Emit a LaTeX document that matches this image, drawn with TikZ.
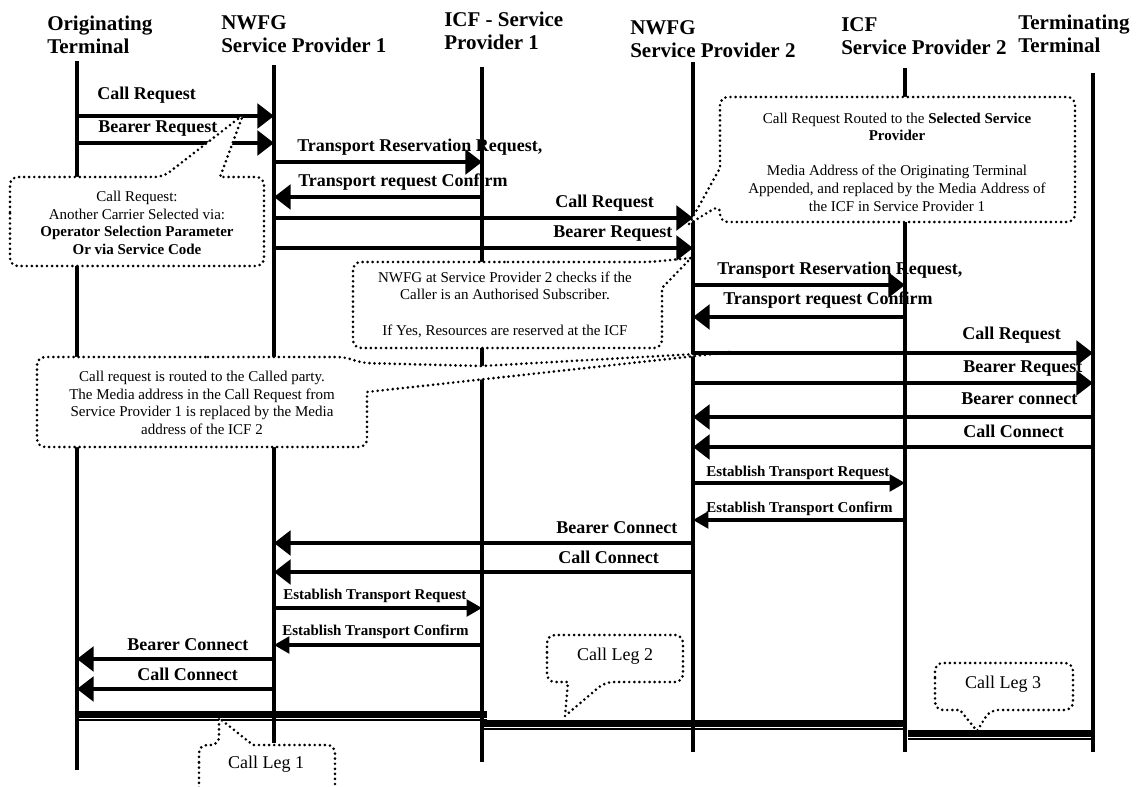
\documentclass[tikz,border=0pt]{standalone}
\usepackage{fontspec}
\setmainfont{Liberation Serif}
\usetikzlibrary{arrows.meta}
% triple rule marking a call leg between two named points
\newcommand\legline[2]{%
  \draw[line width=1.8pt] ([yshift=2.5pt]#1) -- ([yshift=2.5pt]#2);
  \draw[line width=2.5pt] (#1) -- (#2);
  \draw[line width=1.2pt] ([yshift=-3pt]#1) -- ([yshift=-3pt]#2);}
\begin{document}
\begin{tikzpicture}[x=0.75pt,y=-0.75pt,
  hdr/.style={font=\fontsize{15.75}{17.25}\selectfont\bfseries, align=left, anchor=north west, inner sep=0pt},
  lbl/.style={font=\fontsize{13.5}{15}\selectfont\bfseries, anchor=base west, inner sep=0pt},
  slbl/.style={font=\fontsize{11.25}{13}\selectfont\bfseries, anchor=base west, inner sep=0pt},
  note/.style={font=\fontsize{11.25}{13.2}\selectfont, align=center, inner sep=0pt},
  legtxt/.style={font=\fontsize{13.5}{15}\selectfont, anchor=base, inner sep=0pt},
  life/.style={line width=2.4pt},
  msg/.style={line width=2.6pt, -{Triangle[length=12.5pt,width=18.5pt]}},
  smsg/.style={line width=2.4pt, -{Triangle[length=11.5pt,width=12.5pt]}},
  bubble/.style={draw, fill=white, line width=2.2pt, line cap=round, line join=round, dash pattern=on 0pt off 3.8pt},
  rc/.style={rounded corners=6pt},
]
\useasboundingbox (0,0) rectangle (1141,787);
\clip (0,0) rectangle (1141,787);

% ---- lifelines ----
\coordinate (OT) at (77,61);    \coordinate (OTb) at (77,770);
\coordinate (N1) at (274,65);   \coordinate (N1b) at (274,743);
\coordinate (I1) at (482,67);   \coordinate (I1b) at (482,762);
\coordinate (N2) at (693,62);   \coordinate (N2b) at (693,752);
\coordinate (I2) at (905,68);   \coordinate (I2b) at (905,752);
\coordinate (TT) at (1093,73);  \coordinate (TTb) at (1093,752);
\draw[life] (OT) -- (OTb);
\draw[life] (N1) -- (N1b);
\draw[life] (I1) -- (I1b);
\draw[life] (N2) -- (N2b);
\draw[life] (I2) -- (I2b);
\draw[life] (TT) -- (TTb);

% ---- call legs ----
\coordinate (g1a) at (77,716);  \coordinate (g1b) at (487,716);
\coordinate (g2a) at (480,725); \coordinate (g2b) at (905,725);
\coordinate (g3a) at (908,735); \coordinate (g3b) at (1093,735);
\legline{g1a}{g1b}
\legline{g2a}{g2b}
\legline{g3a}{g3b}

% ---- callouts (white, over the lifelines) ----
\draw[bubble] (900,97) [rc] -- (1075,97) -- (1075,222) -- (720,222) -- (720,205) [sharp corners] -- (689,224) -- (720,168) [rc] -- (720,97) -- cycle;
\draw[bubble] (500,262) [rc] -- (650,262) [sharp corners] -- (691,258) -- (662,288) [rc] -- (662,348) -- (353,348) -- (353,262) -- cycle;
\draw[bubble] (200,357) [rc] -- (345,357) -- (362,363) [sharp corners] -- (482,366) -- (732,352) -- (367,392) [rc] -- (367,447) -- (37,447) -- (37,357) -- cycle;
\draw[bubble] (547,660) [rc] -- (547,635) -- (683,635) -- (683,682) -- (605,682) [sharp corners] -- (565,716) -- (568,682) [rc] -- (547,682) -- cycle;
\draw[bubble] (935,685) [rc] -- (935,663) -- (1073,663) -- (1073,710) -- (990,710) [sharp corners] -- (977,731) -- (960,710) [rc] -- (935,710) -- cycle;
\draw[bubble] (199,770) [rc] -- (199,745) -- (219,745) [sharp corners] -- (219,718) -- (253,745) [rc] -- (335,745) -- (335,800) -- (199,800) -- cycle;

% ---- messages ----
\draw[msg]  (OT |- 0,116) -- (N1 |- 0,116);
\draw[msg]  (OT |- 0,143) -- (N1 |- 0,143);
\draw[msg]  (N1 |- 0,162) -- (I1 |- 0,162);
\draw[msg]  (I1 |- 0,197) -- (N1 |- 0,197);
\draw[msg]  (N1 |- 0,218) -- (N2 |- 0,218);
\draw[msg]  (N1 |- 0,248) -- (N2 |- 0,248);
\draw[msg]  (N2 |- 0,285) -- (I2 |- 0,285);
\draw[msg]  (I2 |- 0,317) -- (N2 |- 0,317);
\draw[msg]  (N2 |- 0,353) -- (TT |- 0,353);
\draw[msg]  (N2 |- 0,383) -- (TT |- 0,383);
\draw[msg]  (TT |- 0,417) -- (N2 |- 0,417);
\draw[msg]  (TT |- 0,447) -- (N2 |- 0,447);
\draw[smsg] (N2 |- 0,483) -- (I2 |- 0,483);
\draw[smsg] (I2 |- 0,520) -- (N2 |- 0,520);
\draw[msg]  (N2 |- 0,543) -- (N1 |- 0,543);
\draw[msg]  (N2 |- 0,572) -- (N1 |- 0,572);
\draw[smsg] (N1 |- 0,608) -- (I1 |- 0,608);
\draw[smsg] (I1 |- 0,645) -- (N1 |- 0,645);
\draw[msg]  (N1 |- 0,659) -- (OT |- 0,659);
\draw[msg]  (N1 |- 0,689) -- (OT |- 0,689);

% callout on the carrier selection, drawn over the bearer request arrow
\draw[bubble] (10,220) [rc] -- (10,177) -- (163,177) [sharp corners] -- (243,115) -- (220,177) [rc] -- (264,177) -- (264,266) -- (10,266) -- cycle;

% ---- headers ----
\node[hdr] (h1) at (47,15.5)  {Originating\\Terminal};
\node[hdr] (h2) at (221,15)   {NWFG\\Service Provider 1};
\node[hdr] (h3) at (444,12)   {ICF - Service\\Provider 1};
\node[hdr] (h4) at (630,20)   {NWFG\\Service Provider 2};
\node[hdr] (h5) at (841,17)   {ICF\\Service Provider 2};
\node[hdr] (h6) at (1018,15)  {Terminating\\Terminal};

% ---- message labels ----
\node[lbl]  (l1)  at (97,100)  {Call Request};
\node[lbl]  (l2)  at (98,133)  {Bearer Request};
\node[lbl]  (l3)  at (297,152) {Transport Reservation Request,};
\node[lbl]  (l4)  at (298,187) {Transport request Confirm};
\node[lbl]  (l5)  at (555,208) {Call Request};
\node[lbl]  (l6)  at (553,238) {Bearer Request};
\node[lbl]  (l7)  at (717,275) {Transport Reservation Request,};
\node[lbl]  (l8)  at (723,305) {Transport request Confirm};
\node[lbl]  (l9)  at (962,340) {Call Request};
\node[lbl]  (l10) at (963,373) {Bearer Request};
\node[lbl]  (l11) at (961,405) {Bearer connect};
\node[lbl]  (l12) at (963,437) {Call Connect};
\node[slbl] (l13) at (706,476) {Establish Transport Request};
\node[slbl] (l14) at (706,512) {Establish Transport Confirm};
\node[lbl]  (l15) at (556,533) {Bearer Connect};
\node[lbl]  (l16) at (558,563) {Call Connect};
\node[slbl] (l17) at (283,599) {Establish Transport Request};
\node[slbl] (l18) at (282,635) {Establish Transport Confirm};
\node[lbl]  (l19) at (127,650) {Bearer Connect};
\node[lbl]  (l20) at (137,680) {Call Connect};

% ---- callout texts ----
\node[note] (ta) at (137,223) {Call Request:\\Another Carrier Selected via:\\\textbf{Operator Selection Parameter}\\\textbf{Or via Service Code}};
\node[note] (tb) at (897,162) {Call Request Routed to the \textbf{Selected Service}\\\textbf{Provider}\\[13.2pt]Media Address of the Originating Terminal\\Appended, and replaced by the Media Address of\\the ICF in Service Provider 1};
\node[note] (tc) at (505,304.5) {NWFG at Service Provider 2 checks if the\\Caller is an Authorised Subscriber.\\[13.2pt]If Yes, Resources are reserved at the ICF};
\node[note] (td) at (202,403) {Call request is routed to the Called party.\\The Media address in the Call Request from\\Service Provider 1 is replaced by the Media\\address of the ICF 2};
\node[legtxt] (te) at (615,660) {Call Leg 2};
\node[legtxt] (tf) at (1003,688) {Call Leg 3};
\node[legtxt] (tg) at (266,768) {Call Leg 1};
\end{tikzpicture}
\end{document}
